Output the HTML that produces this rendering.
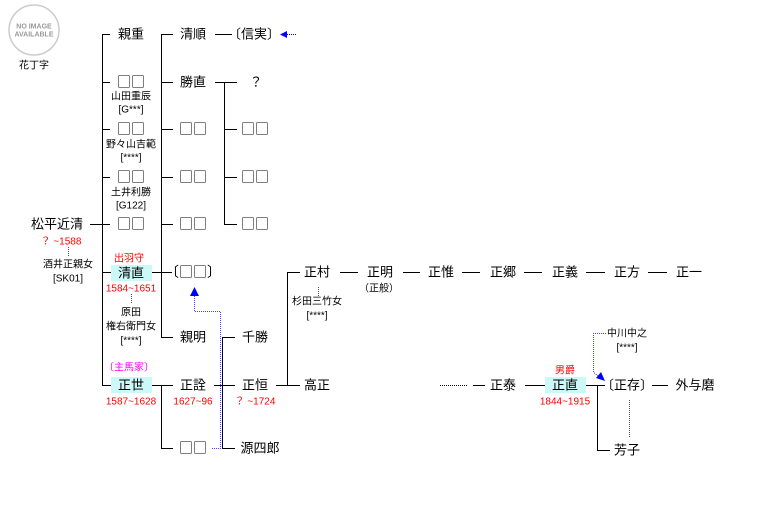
<!DOCTYPE html>
<html><head><meta charset="utf-8"><style>
html,body{margin:0;padding:0;background:#fff;}
svg{display:block;}
text{font-family:"Liberation Sans","Noto Sans CJK JP",sans-serif;dominant-baseline:central;text-anchor:middle;}
.n{font-size:13px;fill:#000;}
.s{font-size:10px;fill:#000;}
.r{font-size:10px;fill:#f00;}
.m{font-size:10px;fill:#f0f;}
.b{font-family:"Noto Sans CJK JP","WenQuanYi Zen Hei",sans-serif;font-size:14px;}
</style></head><body>
<svg width="776" height="512" viewBox="0 0 776 512" xmlns="http://www.w3.org/2000/svg">
<rect width="776" height="512" fill="#fff"/>
<circle cx="34" cy="30" r="25" fill="#fff" stroke="#ccc" stroke-width="1.5"/>
<text x="34" y="27" style="font-size:7px;fill:#999;font-weight:bold">NO IMAGE</text>
<text x="34" y="35" style="font-size:7px;fill:#999;font-weight:bold">AVAILABLE</text>
<text class="s" x="34" y="66">花丁字</text>

<g stroke="#000" stroke-width="1" fill="none" shape-rendering="crispEdges">
<path d="M102.5 34.5V385.5"/>
<path d="M102 34.5H110M102 82.5H110M102 129.5H110M102 177.5H110M102 224.5H110M102 272.5H111M102 385.5H111M90 224.5H102"/>
<path d="M161.5 34.5V337.5"/>
<path d="M161 34.5H173M161 82.5H173M161 129.5H173M161 177.5H173M161 224.5H173M161 337.5H173M152 272.5H172"/>
<path d="M215 34.5H232"/>
<path d="M215 82.5H237M224.5 82.5V224.5M224 129.5H237M224 177.5H237M224 224.5H237"/>
<path d="M152 385.5H173M161.5 385.5V448.5M161 448.5H173"/>
<path d="M214 385.5H235M222.5 337.5V448.5M222 337.5H235M222 448.5H235"/>
<path d="M276 385.5H300M287.5 272.5V385.5M287 272.5H300"/>
<path d="M340 272.5H358M403 272.5H420M462 272.5H480M524 272.5H542M586 272.5H605M648 272.5H667"/>
<path d="M473 385.5H485M525 385.5H545M586 385.5H605M597.5 385.5V450.5M597 450.5H610M652 385.5H668"/>
</g>
<g fill="none" shape-rendering="crispEdges">
<path d="M68.5 247V256" stroke="#555" stroke-dasharray="1,1"/>
<path d="M131.5 294V304" stroke="#555" stroke-dasharray="1,1"/>
<path d="M318.5 287V296" stroke="#555" stroke-dasharray="1,1"/>
<path d="M440 385.5H468" stroke="#000" stroke-dasharray="1,1"/>
<path d="M629.5 400V438" stroke="#555" stroke-dasharray="1,1"/>
<path d="M281 34.5H297" stroke="#00f" stroke-dasharray="1,1"/>
<path d="M212 448.5H220.5V311.5H194.5V295" stroke="#44f" stroke-dasharray="1,1"/>
<path d="M606 333.5H593.5V372L598 376" stroke="#44f" stroke-dasharray="1,1"/>
</g>
<polygon points="280,34.5 287,31 287,38" fill="#00f"/>
<polygon points="194.5,287 190,296 199,296" fill="#00f"/>
<polygon points="605,381 596,378 601,372" fill="#00f"/>
<rect x="111" y="265" width="41" height="16" fill="#ccf8f8"/>
<rect x="111" y="377" width="41" height="16" fill="#ccf8f8"/>
<rect x="545" y="377" width="41" height="16" fill="#ccf8f8"/>

<text class="n" x="57" y="224">松平近清</text>
<text class="r" x="61" y="242">？ ~1588</text>
<text class="s" x="68" y="265">酒井正親女</text>
<text class="s" x="68" y="279">[SK01]</text>
<text class="n" x="131" y="34">親重</text>
<text class="n b" x="131" y="82">□□</text>
<text class="s" x="131" y="97">山田重辰</text>
<text class="s" x="131" y="110">[G***]</text>
<text class="n b" x="131" y="129">□□</text>
<text class="s" x="131" y="145">野々山吉範</text>
<text class="s" x="131" y="158">[****]</text>
<text class="n b" x="131" y="177">□□</text>
<text class="s" x="131" y="193">土井利勝</text>
<text class="s" x="131" y="206">[G122]</text>
<text class="n b" x="131" y="224">□□</text>
<text class="r" x="129" y="259">出羽守</text>
<text class="n" x="131" y="273">清直</text>
<text class="r" x="131" y="289">1584~1651</text>
<text class="s" x="131" y="313">原田</text>
<text class="s" x="131" y="327">権右衛門女</text>
<text class="s" x="131" y="341">[****]</text>
<text class="m" x="129" y="368">〔主馬家〕</text>
<text class="n" x="131" y="385">正世</text>
<text class="r" x="131" y="402">1587~1628</text>
<text class="n" x="193" y="34">清順</text>
<text class="n" x="254" y="34">〔信実〕</text>
<text class="n" x="193" y="82">勝直</text>
<text class="n" x="256" y="82">？</text>
<text class="n b" x="193" y="129">□□</text>
<text class="n b" x="193" y="177">□□</text>
<text class="n b" x="193" y="224">□□</text>
<text class="n b" x="255" y="129">□□</text>
<text class="n b" x="255" y="177">□□</text>
<text class="n b" x="255" y="224">□□</text>
<text class="n b" x="193" y="272">〔□□〕</text>
<text class="n" x="193" y="337">親明</text>
<text class="n" x="193" y="385">正詮</text>
<text class="r" x="193" y="402">1627~96</text>
<text class="n b" x="193" y="448">□□</text>
<text class="n" x="255" y="337">千勝</text>
<text class="n" x="255" y="385">正恒</text>
<text class="r" x="255" y="402">？ ~1724</text>
<text class="n" x="260" y="448">源四郎</text>
<text class="n" x="317" y="272">正村</text>
<text class="s" x="317" y="302">杉田三竹女</text>
<text class="s" x="317" y="316">[****]</text>
<text class="n" x="317" y="385">高正</text>
<text class="n" x="380" y="272">正明</text>
<text class="s" x="379" y="289">（正般）</text>
<text class="n" x="441" y="272">正惟</text>
<text class="n" x="503" y="272">正郷</text>
<text class="n" x="565" y="272">正義</text>
<text class="n" x="627" y="272">正方</text>
<text class="n" x="689" y="272">正一</text>
<text class="n" x="503" y="385">正泰</text>
<text class="r" x="565" y="371">男爵</text>
<text class="n" x="565" y="385">正直</text>
<text class="r" x="565" y="402">1844~1915</text>
<text class="s" x="627" y="334">中川中之</text>
<text class="s" x="627" y="348">[****]</text>
<text class="n" x="627" y="385">〔正存〕</text>
<text class="n" x="695" y="385">外与磨</text>
<text class="n" x="627" y="450">芳子</text>
</svg>
</body></html>
